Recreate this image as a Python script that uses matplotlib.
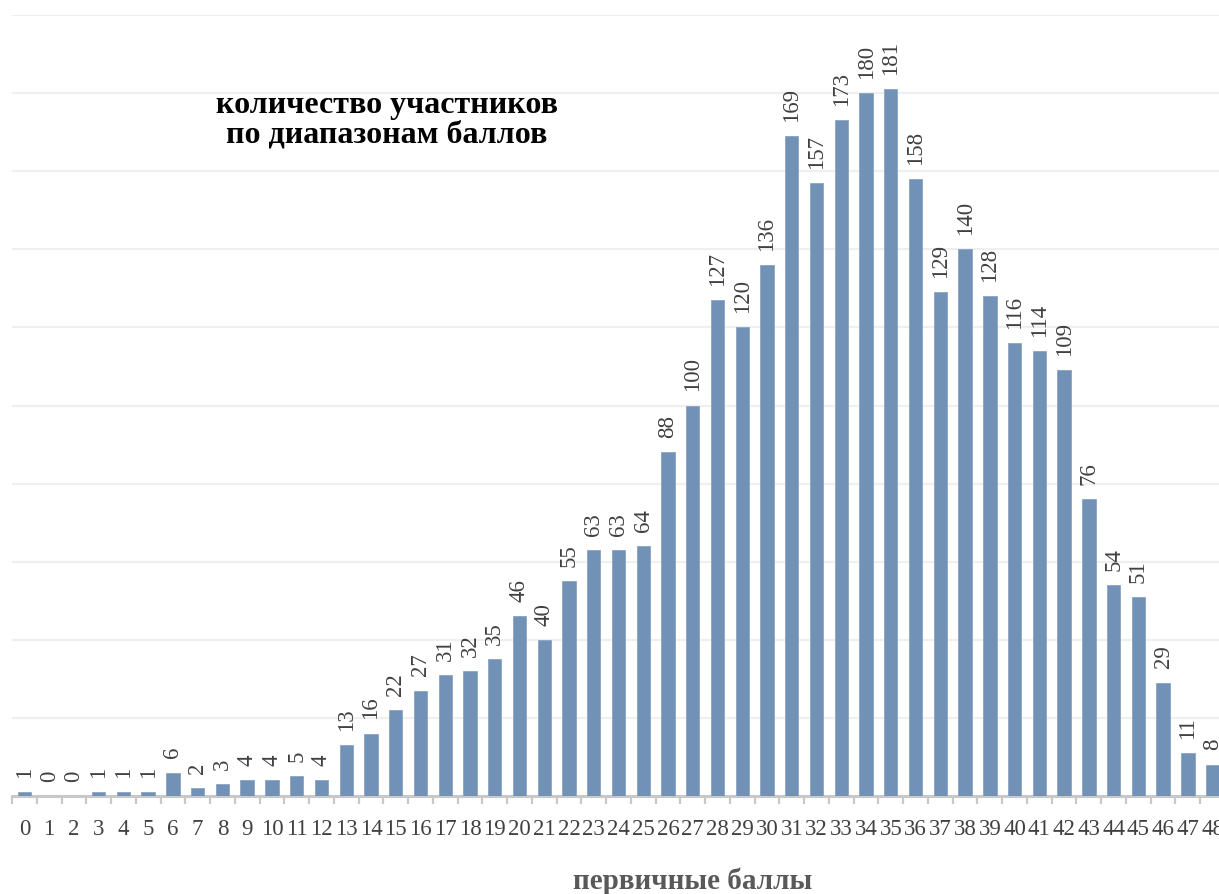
import matplotlib.pyplot as plt
import numpy as np

SCORES = list(range(49))
COUNTS = [1, 0, 0, 1, 1, 1, 6, 2, 3, 4, 4, 5, 4, 13, 16, 22, 27, 31, 32, 35,
          46, 40, 55, 63, 63, 64, 88, 100, 127, 120, 136, 169, 157, 173, 180,
          181, 158, 129, 140, 128, 116, 114, 109, 76, 54, 51, 29, 11, 8]
TITLE = "количество участников\nпо диапазонам баллов"
XLABEL = "первичные баллы"

BAR = "#7291b6"
TXT = "#404040"
SERIF = ["Liberation Serif", "DejaVu Serif"]


def main() -> None:
    W, H = 1219, 895
    fig = plt.figure(figsize=(W / 100, H / 100), dpi=100)
    # axis runs past the right edge of the picture, like the source
    left, right, bottom, top = 12, 1225, 797, 16
    ax = fig.add_axes([left / W, (H - bottom) / H, (right - left) / W, (bottom - top) / H])

    x = np.arange(len(SCORES))
    ax.bar(x, COUNTS, width=0.54, color=BAR, edgecolor="#8aa4c4", linewidth=0.6, zorder=3)
    for xi, v in zip(x, COUNTS):
        ax.annotate(str(v), (xi, v), xytext=(0, 11), textcoords="offset points",
                    rotation=90, ha="center", va="bottom", fontsize=16.5,
                    family=SERIF, color=TXT, zorder=4, annotation_clip=False)

    ax.set_xlim(-0.5, len(SCORES) - 0.5)
    ax.set_ylim(0, 200)
    ax.set_yticks(np.arange(0, 201, 20))
    ax.yaxis.grid(True, color="#efefef", linewidth=1.6, zorder=0)
    ax.tick_params(axis="y", length=0, labelleft=False)

    ax.set_xticks(x)
    ax.set_xticklabels([str(s) for s in SCORES], fontsize=16.5, family=SERIF, color=TXT)
    ax.tick_params(axis="x", which="major", length=0, pad=16)
    ax.set_xticks(np.arange(-0.5, len(SCORES), 1), minor=True)
    ax.tick_params(axis="x", which="minor", length=6, width=1.6, color="#c8c8c8")

    for side in ("top", "right", "left"):
        ax.spines[side].set_visible(False)
    ax.spines["bottom"].set_color("#c8c8c8")
    ax.spines["bottom"].set_linewidth(2.2)

    fig.text(387 / W, 1 - 120 / H, TITLE, ha="center", va="center", fontsize=23,
             fontweight="bold", family=SERIF, color="black", linespacing=1.0)
    fig.text(693 / W, 1 - 881 / H, XLABEL, ha="center", va="center", fontsize=21,
             fontweight="bold", family=SERIF, color="#595959")

    fig.savefig("out.png", dpi=100)
    plt.close(fig)


if __name__ == "__main__":
    main()
